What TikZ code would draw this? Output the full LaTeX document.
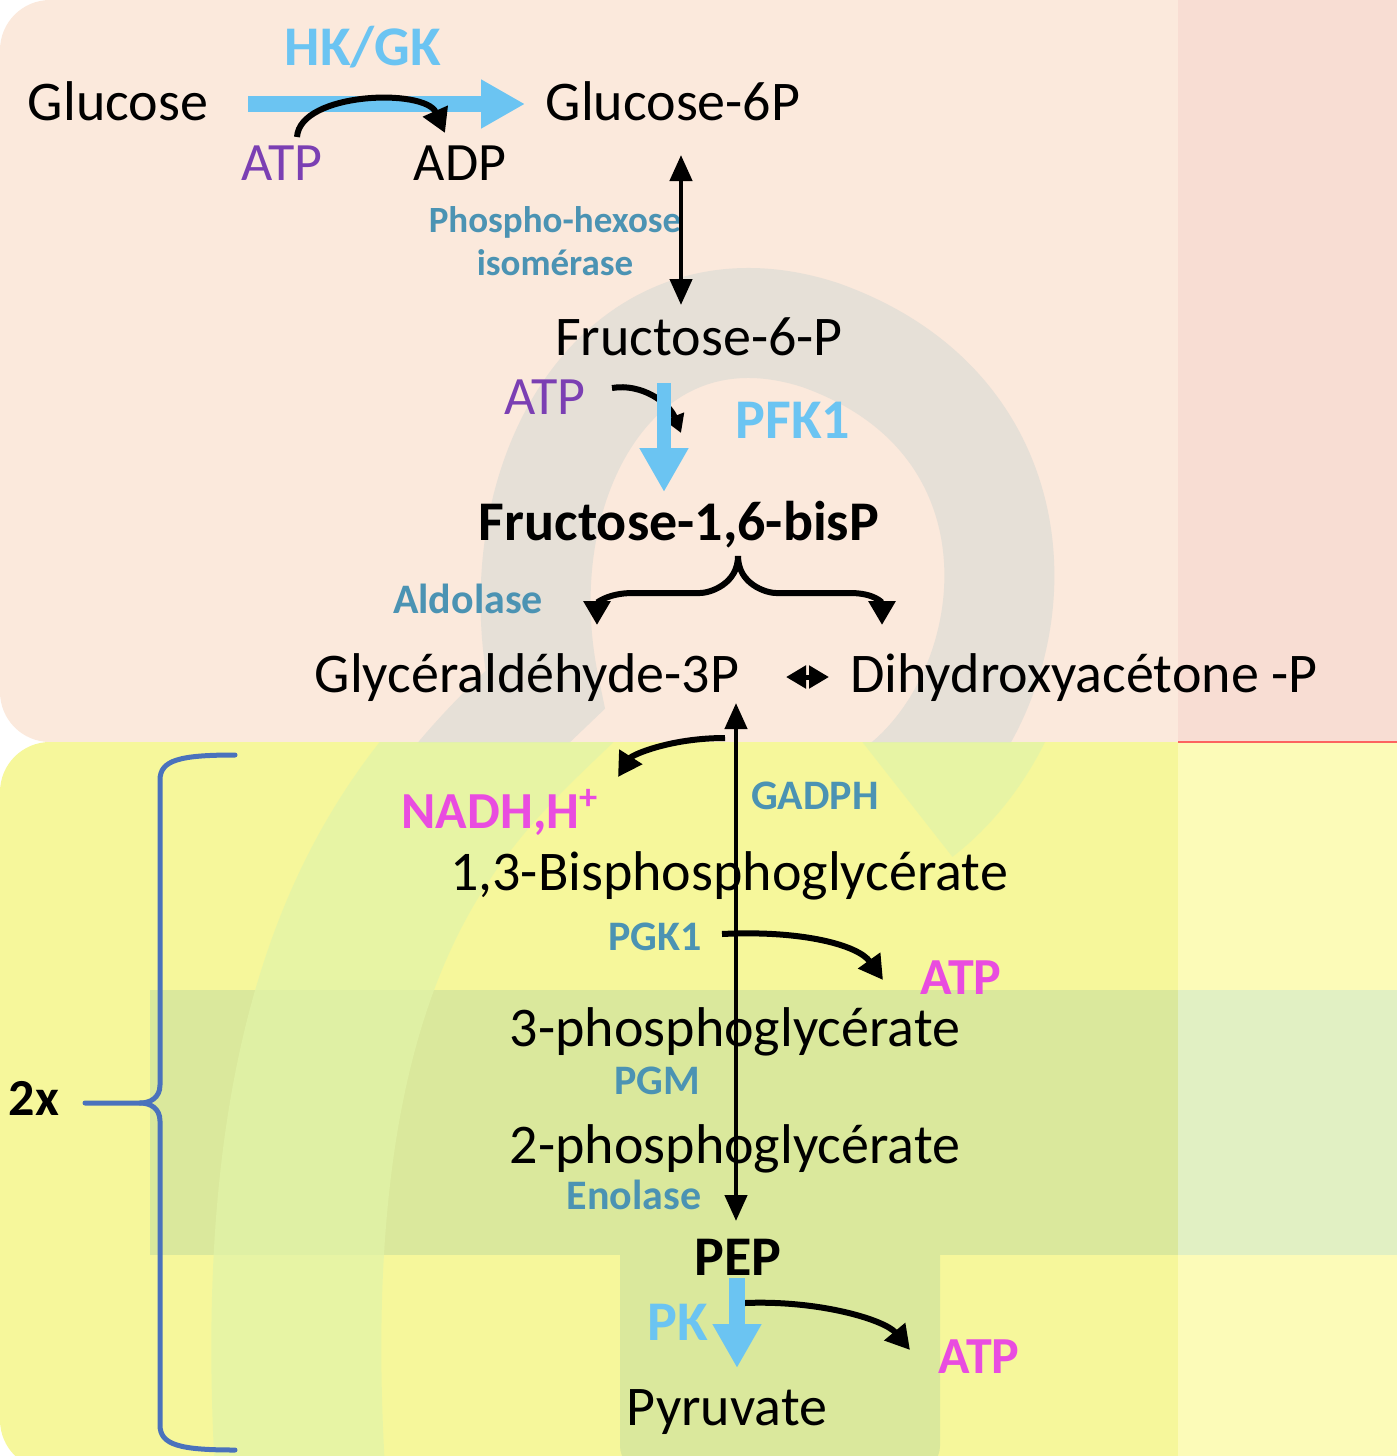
\documentclass[tikz,border=0pt]{standalone}
\usepackage{fontspec}
\setmainfont{Carlito}
\usetikzlibrary{arrows.meta, calc, positioning}
\definecolor{peachbg}{HTML}{FBE9DC}
\definecolor{pinkbg}{HTML}{F8DDD3}
\definecolor{yellowbg}{HTML}{F6F79B}
\definecolor{paleyellow}{HTML}{FCFBB8}
\definecolor{bandgreen}{HTML}{DAE89C}
\definecolor{bandpale}{HTML}{E1F0C3}
\definecolor{ringgrey}{HTML}{D9DAD4}
\definecolor{swoosh}{HTML}{E2F4A8}
\definecolor{hkblue}{HTML}{6BC4F2}
\definecolor{enzteal}{HTML}{4B93B3}
\definecolor{atppurple}{HTML}{7B3FB3}
\definecolor{gainpink}{HTML}{E94CE0}
\definecolor{braceblue}{HTML}{4A72BC}

\begin{document}
\begin{tikzpicture}[x=0.5pt, y=-0.5pt,
  mol/.style={inner sep=0pt, anchor=base, font=\fontsize{28}{32}\selectfont},
  molb/.style={mol, font=\bfseries\fontsize{28}{32}\selectfont},
  enz/.style={mol, text=enzteal, font=\bfseries\fontsize{21}{24}\selectfont},
  enzs/.style={mol, text=enzteal, font=\bfseries\fontsize{18.5}{21}\selectfont},
  hk/.style={mol, text=hkblue, font=\bfseries\fontsize{28}{32}\selectfont},
  atp/.style={mol, text=atppurple, font=\fontsize{27}{32}\selectfont},
  gain/.style={mol, text=gainpink, font=\bfseries\fontsize{26}{30}\selectfont},
  rx/.style={line width=3pt, -{Triangle[width=13pt,length=12pt]}},
  dbl/.style={line width=2.2pt, {Triangle[width=11pt,length=13pt]}-{Triangle[width=11pt,length=13pt]}},
  flow/.style={hkblue, line width=8pt, -{Triangle[width=23pt,length=22pt]}}
]
\useasboundingbox (0,0) rectangle (1397,1456);
\clip (0,0) rectangle (1397,1456);

\fill[peachbg, rounded corners=25pt] (0,0) rectangle (1460,742);
\fill[pinkbg] (1178,0) rectangle (1397,742);
\fill[yellowbg, rounded corners=25pt] (0,742) rectangle (1460,1470);
\fill[paleyellow] (1178,742) rectangle (1397,1456);
\fill[bandgreen] (150,990) rectangle (1178,1255);
\fill[bandpale] (1178,990) rectangle (1397,1255);
\fill[bandgreen, rounded corners=12pt] (620,1200) rectangle (940,1470);
\draw[red!55!pinkbg, line width=1pt] (1178,742) -- (1397,742);
\begin{scope}
  \clip (0,0) rectangle (1397,742);
  \draw[ringgrey, line width=55pt, opacity=.6] (900,790) .. controls (1030,690) and (1060,420) .. (820,335) .. controls (620,270) and (500,480) .. (545,690) .. controls (430,800) and (270,950) .. (300,1470);
\end{scope}
\begin{scope}
  \clip (0,742) rectangle (1397,1456);
  \draw[swoosh, line width=85pt, opacity=.75] (900,790) .. controls (1030,690) and (1060,420) .. (820,335) .. controls (620,270) and (500,480) .. (545,690) .. controls (430,800) and (270,950) .. (300,1470);
\end{scope}

\node[mol] (Glc) at (118,120) {Glucose};
\node[mol] (G6P) at (673,120) {Glucose-6P};
\node[hk] (HK) at (363,65) {HK/GK};
\node[atp] (ATPa) at (282,180) {ATP};
\node[atp, text=black] (ADP) at (460,180) {ADP};
\node[enzs] (PHIa) at (555,232) {Phospho-hexose};
\node[enzs] (PHIb) at (555,275) {isomérase};
\node[mol] (F6P) at (699,355) {Fructose-6-P};
\node[atp] (ATPb) at (545,414) {ATP};
\node[hk] (PFK) at (793,438) {PFK1};
\node[molb] (F16) at (679,540) {Fructose-1,6-bisP};
\node[enz] (Ald) at (468,613) {Aldolase};
\node[mol] (GAP) at (527,692) {Glycéraldéhyde-3P};
\node[mol] (DHAP) at (1084,692) {Dihydroxyacétone -P};
\node[gain] (NADH) at (500,828) {NADH,H\textsuperscript{+}};
\node[enz] (GAPDH) at (815,809) {GADPH};
\node[mol] (BPG) at (729,890) {1,3-Bisphosphoglycérate};
\node[enz] (PGK) at (655,950) {PGK1};
\node[gain] (ATPc) at (961,994) {ATP};
\node[mol] (PGa) at (735,1046) {3-phosphoglycérate};
\node[enz] (PGM) at (657,1094) {PGM};
\node[mol] (PGb) at (735,1163) {2-phosphoglycérate};
\node[enz] (Eno) at (634,1209) {Enolase};
\node[molb] (PEP) at (738,1275) {PEP};
\node[hk] (PK) at (678,1340) {PK};
\node[gain] (ATPd) at (979,1373) {ATP};
\node[mol] (Pyr) at (727,1425) {Pyruvate};
\node[molb, font=\bfseries\fontsize{26}{30}\selectfont] (two) at (34,1115) {2x};

\coordinate (split) at ([shift={(59,16)}]F16.base);
\coordinate (cusp) at ([shift={(51,-12)}]two.base);

\draw[dbl] ([shift={(8,35)}]G6P.base) -- ([shift={(-18,-50)}]F6P.base);
\draw[rx, -{Triangle[width=10pt,length=9pt]}] ([shift={(67,-26)}]ATPb.base) .. controls +(30,-5) and +(-12,-30) .. ([shift={(-18,78)}]F6P.base);
\draw[rx] (split) .. controls +(0,28) and +(10,0) .. ([shift={(-38,37)}]split) -- ([shift={(-105,37)}]split) .. controls +(-25,0) and +(0,-22) .. ([shift={(70,-67)}]GAP.base);
\draw[rx] (split) .. controls +(0,28) and +(-10,0) .. ([shift={(38,37)}]split) -- ([shift={(112,37)}]split) .. controls +(25,0) and +(0,-22) .. ([shift={(-202,-67)}]DHAP.base);
\draw[line width=2.5pt, {Triangle[width=11pt,length=10pt]}-{Triangle[width=11pt,length=10pt]}] ([shift={(259,-15)}]GAP.base) -- ([shift={(-255,-15)}]DHAP.base);
\draw[dbl] ([shift={(209,11)}]GAP.base) -- ([shift={(-2,-54)}]PEP.base);
\draw[rx] ([shift={(198,46)}]GAP.base) .. controls +(-55,0) and +(14,-22) .. ([shift={(118,-51)}]NADH.base);
\draw[rx] ([shift={(67,-16)}]PGK.base) .. controls +(80,-4) and +(-25,-35) .. ([shift={(-78,-14)}]ATPc.base);
\draw[rx] ([shift={(7,28)}]PEP.base) .. controls +(75,-3) and +(-25,-30) .. ([shift={(-69,-23)}]ATPd.base);

\draw[flow] ([shift={(130,-16)}]Glc.base) -- ([shift={(-148,-16)}]G6P.base);
\draw[flow, line width=7pt] ([shift={(-35,28)}]F6P.base) -- ([shift={(-15,-48)}]F16.base);
\draw[flow] ([shift={(-1,3)}]PEP.base) -- ([shift={(10,-57)}]Pyr.base);
\draw[rx] ([shift={(15,-43)}]ATPa.base) .. controls +(3,-45) and +(-20,-45) .. ([shift={(-15,-47)}]ADP.base);

\draw[braceblue, line width=2.5pt, line cap=round] (235,755) .. controls (180,755) and (160,760) .. (160,780) -- (160,1085) .. controls (160,1098) and (150,1103) .. (140,1103) -- (cusp);
\draw[braceblue, line width=2.5pt, line cap=round] (140,1103) .. controls (150,1103) and (160,1108) .. (160,1121) -- (160,1425) .. controls (160,1445) and (180,1450) .. (235,1450);
\end{tikzpicture}
\end{document}
